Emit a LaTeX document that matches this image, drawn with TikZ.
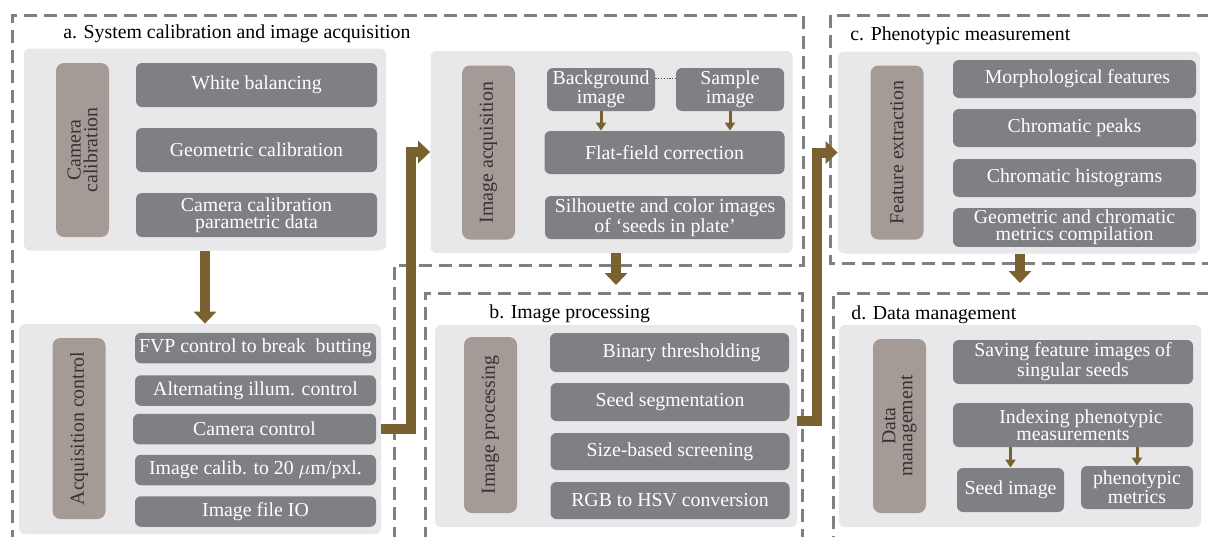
\documentclass[tikz,border=0pt]{standalone}
\usepackage{fontspec}
\setmainfont{Liberation Serif}
\usepackage{tikz}
\usetikzlibrary{arrows.meta}
\definecolor{ppanel}{HTML}{E8E8EA}
\definecolor{ttaupe}{HTML}{A49B96}
\definecolor{ggray}{HTML}{7F8083}
\definecolor{bbrown}{HTML}{7A6230}
\definecolor{ddash}{HTML}{808080}

\begin{document}
\begin{tikzpicture}[x=0.5pt,y=-0.5pt,
	every node/.style={font=\fontsize{9.9}{8.4}\selectfont},
	panel/.style={fill=ppanel,rounded corners=3pt,minimum width=181pt,minimum height=101pt},
	side/.style={fill=ttaupe,rounded corners=4pt,rotate=90,text=black!80,align=center,inner sep=1pt,minimum width=87pt,minimum height=26.5pt},
	item/.style={fill=ggray,rounded corners=3pt,text=white,align=center,inner sep=1pt,minimum width=120.5pt,minimum height=22pt},
	frame/.style={ddash,line width=1.5pt,dash pattern=on 6.5pt off 3.5pt},
	bigarrow/.style={bbrown,line width=5pt,-{Triangle[width=11pt,length=6pt]}},
	smallarrow/.style={bbrown,line width=1.5pt,-{Triangle[width=5pt,length=4pt]}},
	title/.style={anchor=base west,inner sep=0pt}]
	\useasboundingbox (0,0) rectangle (1208,536);
	\clip (0,0) rectangle (1208,536);

	% dashed frames of the four stages
	\draw[frame] (394,560) -- (394,265) -- (803,265) -- (803,15) -- (12,15) -- (12,560);
	\draw[frame] (425,560) -- (425,293) -- (802,293) -- (802,560);
	\draw[frame] (1230,15) -- (830,15) -- (830,263) -- (1230,263);
	\draw[frame] (1230,293) -- (833,293) -- (833,560);
	\coordinate (bframe) at (425,293);
	\coordinate (dframe) at (833,293);

	% panels
	\node[panel] (calpanel) at (205,149.5) {};
	\node[panel] (acqpanel) at (611.5,152) {};
	\node[panel] (featpanel) at (1019,152.5) {};
	\node[panel,minimum height=105pt] (ctrlpanel) at (200,429) {};
	\node[panel] (procpanel) at (616,426) {};
	\node[panel] (datapanel) at (1020,426) {};

	\node[title] (atitle) at (63,38) {a. System calibration and image acquisition};
	\node[title] (btitle) at (489,318) {b. Image processing};
	\node[title] (ctitle) at (850,40) {c. Phenotypic measurement};
	\node[title] (dtitle) at (851,319) {d. Data management};

	% side labels
	\node[side] (calside) at (82.5,150) {Camera\\calibration};
	\node[side] (acqside) at (488.5,152.5) {Image acquisition};
	\node[side] (featside) at (897,152.5) {Feature extraction};
	\node[side,minimum width=90.5pt] (ctrlside) at (79,428.5) {Acquisition control};
	\node[side,minimum width=88pt] (procside) at (490.5,425) {Image processing};
	\node[side] (dataside) at (899.5,426) {Data\\management};

	% calibration
	\node[item] (white) at (256.5,85) {White balancing};
	\node[item] (geo) at (256.5,150) {Geometric calibration};
	\node[item] (campar) at (256.5,215) {Camera calibration\\parametric data};

	% acquisition
	\node[item,minimum width=54pt,minimum height=21.5pt] (bg) at (601,89.5) {Background\\image};
	\node[item,minimum width=54pt,minimum height=21.5pt] (sample) at (730,89.5) {Sample\\image};
	\node[item,minimum width=120pt,minimum height=21.5pt] (flat) at (664.5,152.5) {Flat-field correction};
	\node[item,minimum width=120pt,minimum height=21.5pt] (silh) at (665,217.5) {Silhouette and color images\\of ‘seeds in plate’};
	\draw[black!70,line width=0.5pt,dash pattern=on 0.6pt off 0.8pt] ([yshift=5.75pt]bg.east) -- ([yshift=5.75pt]sample.west);
	\draw[smallarrow] (bg) -- (bg |- flat.north);
	\draw[smallarrow] (sample) -- (sample |- flat.north);

	% features
	\node[item,minimum width=121.5pt,minimum height=19pt] (morph) at (1074.5,79) {\hspace*{3pt}Morphological features};
	\node[item,minimum width=121.5pt,minimum height=19pt] (peaks) at (1074.5,128) {Chromatic peaks};
	\node[item,minimum width=121.5pt,minimum height=19pt] (hist) at (1074.5,178) {Chromatic histograms};
	\node[item,minimum width=121.5pt,minimum height=18.5pt] (metric) at (1074.5,227.5) {Geometric and chromatic\\metrics compilation};

	% acquisition control
	\node[item,minimum height=15.25pt] (fvp) at (255.5,348) {FVP control to break~ butting};
	\node[item,minimum height=15.25pt] (alt) at (255.5,390.5) {Alternating illum. control};
	\node[item,minimum width=121.5pt,minimum height=15.25pt] (cam) at (254.5,429) {Camera control};
	\node[item,minimum height=15.25pt] (calib) at (255.5,470) {Image calib. to 20 $\mu$m/pxl.};
	\node[item,minimum height=15.25pt] (io) at (255.5,511.5) {Image file IO};

	% processing
	\node[item,minimum width=119.5pt,minimum height=19.5pt] (bin) at (669.5,352.5) {\hspace*{12pt}Binary thresholding};
	\node[item,minimum width=119.5pt,minimum height=19pt] (seg) at (670,402) {Seed segmentation};
	\node[item,minimum width=119.5pt,minimum height=18.5pt] (size) at (670,451.5) {Size-based screening};
	\node[item,minimum width=119.5pt,minimum height=18.5pt] (rgb) at (670,500.5) {RGB to HSV conversion};

	% data management
	\node[item,minimum width=120pt] (save) at (1073,362) {Saving feature images of\\singular seeds};
	\node[item,minimum width=120pt] (index) at (1073,425) {\hspace*{8pt}Indexing phenotypic\\measurements};
	\node[item,minimum width=53.5pt] (seedimg) at (1010.5,490) {Seed image};
	\node[item,minimum width=56pt,minimum height=21.5pt] (metrics) at (1137,487.5) {phenotypic\\metrics};
	\draw[smallarrow] (seedimg |- index.south) -- (seedimg);
	\draw[smallarrow] (metrics |- index.south) -- (metrics);

	% flow between stages
	\draw[bigarrow] (calpanel) -- (calpanel.south |- ctrlpanel.north);
	\draw[bigarrow] (ctrlpanel.east |- cam) -- ++(30,0) |- (acqpanel.west);
	\draw[bigarrow,shorten >=4pt] (procpanel.north |- acqpanel.south) -- (procpanel.north |- bframe);
	\draw[bigarrow] (procpanel.east |- seg.south) -- ++(20,0) |- (featpanel.west);
	\draw[bigarrow,shorten >=5pt] (datapanel.north |- featpanel.south) -- (datapanel.north |- dframe);
\end{tikzpicture}
\end{document}
